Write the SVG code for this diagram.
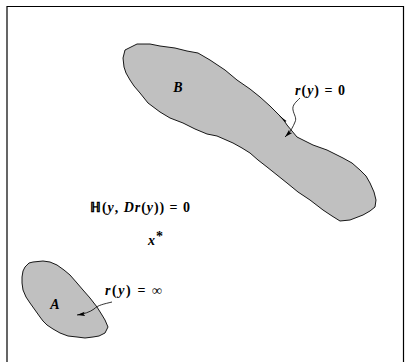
<svg xmlns="http://www.w3.org/2000/svg" width="405" height="362" viewBox="0 0 405 362">
<defs>
<style>
.region{fill:#c0c0c0;stroke:#000;stroke-width:0.9;stroke-linejoin:round}
.conn{fill:none;stroke:#000;stroke-width:0.8}
.lbl{font-family:"Liberation Serif",serif;font-weight:bold;font-size:14px;fill:#000}
.it{font-style:italic}
</style>
<marker id="ah" markerUnits="userSpaceOnUse" markerWidth="9" markerHeight="6" refX="8" refY="3" orient="auto">
<path d="M0,0.8 L8,3 L0,5.2 L1.5,3 z" fill="#000"/>
</marker>
</defs>
<g id="frame" fill="none" stroke="#000" stroke-width="1.2">
<path d="M7,362 V6.5 H403.5 V362"/>
</g>
<g id="regionB">
<path class="region" d="M125,50 L137,44 L150,44 L160,46 L175,48 L187,51 L198,53 L210,60 L225,70 L237,80 L250,89 L260,97 L270,106 L277,113 L283,119 L287,125 L292,131 L297,137 L305,141 L313,145 L327,150 L343,158 L352,163 L360,170 L366,176 L370,183 L374,192 L376,200 L375,207 L370,211 L363,215 L350,220 L340,221 L332,216 L323,210 L310,200 L298,192 L287,183 L277,175 L267,167 L258,160 L250,153 L242,148 L233,143 L217,136 L207,134 L195,129 L183,123 L170,118 L160,112 L148,103 L140,93 L134,86 L130,80 L126,73 L124,67 L123,58 Z"/>
<path d="M279,115.5 L286.5,121 L285,122 Z" fill="#000"/>
<text class="lbl it" x="178" y="92" text-anchor="middle" font-size="14">B</text>
</g>
<g id="regionA">
<path class="region" d="M33,262 L43,261 L50,262 L57,265 L64,270 L70,275 L77,283 L83,290 L90,298 L97,307 L102,315 L105,320 L108,327 L105,333 L99,336 L93,337 L85,338 L77,337 L68,336 L60,333 L53,329 L47,325 L43,321 L40,317 L35,310 L30,303 L26,297 L23,290 L22,283 L22,277 L23,271 L25,267 L29,263 Z"/>
<text class="lbl it" x="55" y="309" text-anchor="middle" font-size="14">A</text>
</g>
<g id="connectors">
<path class="conn" marker-end="url(#ah)" d="M300,98 C296,102 292,105 293,110 C294,115 297,118 295,122 C293,127 291,130 289,133 L285,137"/>
<path class="conn" marker-end="url(#ah)" d="M112,302 C104,304 98,305 94,309 C90,312 84,314 77,315"/>
</g>
<g id="label-r0">
<text class="lbl" x="295" y="95" textLength="50" lengthAdjust="spacing"><tspan class="it">r</tspan>(<tspan class="it">y</tspan>) = 0</text>
</g>
<g id="label-rinf">
<text class="lbl" x="105" y="295" textLength="57" lengthAdjust="spacing"><tspan class="it">r</tspan>(<tspan class="it">y</tspan>) = ∞</text>
</g>
<g id="label-H">
<text class="lbl" x="90" y="212" textLength="100" lengthAdjust="spacing">ℍ(<tspan class="it">y</tspan>, <tspan class="it">Dr</tspan>(<tspan class="it">y</tspan>)) = 0</text>
</g>
<g id="label-x">
<text class="lbl it" x="148" y="245">x</text>
<text class="lbl" x="156" y="241" font-size="11">*</text>
</g>
</svg>
